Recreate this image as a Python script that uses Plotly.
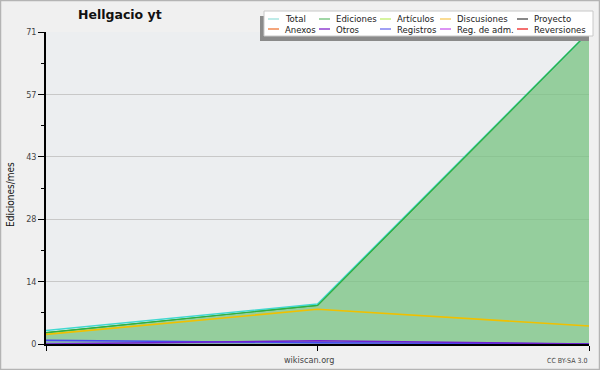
import plotly.graph_objects as go

W, H = 600, 370
L, R, T, B = 46, 589, 32, 344

months = [0, 1, 2]
total = [3.1, 9.1, 71]
ediciones = [2.6, 8.8, 71]
discusiones = [2.2, 7.9, 4.1]
registros = [0.85, 0.3, 0.0]
otros = [0.0, 0.75, 0.0]

ytickvals = [0, 14.2, 28.4, 42.6, 56.8, 71]
yticktext = ["0", "14", "28", "43", "57", "71"]
yminor = [7.1, 21.3, 35.5, 49.7, 63.9]

legend_names = [["Total", "Ediciones", "Artículos", "Discusiones", "Proyecto"],
                ["Anexos", "Otros", "Registros", "Reg. de adm.", "Reversiones"]]
legend_colors = [["#a8e4e0", "#80c888", "#c8f080", "#f8d070", "#606060"],
                 ["#f08850", "#9040d0", "#8080f0", "#d070f0", "#f04040"]]
legend_cols_px = [268, 319, 380, 440, 517]

FONT = "DejaVu Sans Condensed, DejaVu Sans"

def px(x):
    return (x - L) / (R - L)

def py(y):
    return (B - y) / (B - T)

fig = go.Figure()
fig.add_trace(go.Scatter(x=months, y=ediciones, mode="lines", fill="tozeroy",
                         fillcolor="rgba(120,195,130,0.75)",
                         line=dict(color="#30b040", width=1.2), showlegend=False))
fig.add_trace(go.Scatter(x=months, y=total, mode="lines",
                         line=dict(color="#40d8d0", width=1.5), showlegend=False))
fig.add_trace(go.Scatter(x=months, y=ediciones, mode="lines",
                         line=dict(color="#30b040", width=1.2), showlegend=False))
fig.add_trace(go.Scatter(x=months, y=discusiones, mode="lines",
                         line=dict(color="#f0c000", width=1.6), showlegend=False))
fig.add_trace(go.Scatter(x=months, y=registros, mode="lines", fill="tozeroy",
                         fillcolor="rgba(110,110,230,0.35)",
                         line=dict(color="#4848f0", width=1.5), showlegend=False))
fig.add_trace(go.Scatter(x=months, y=otros, mode="lines",
                         line=dict(color="#7020d0", width=1.5), showlegend=False))

shapes = []
ann = []
# outer frame
shapes.append(dict(type="rect", xref="paper", yref="paper",
                   x0=px(0.5), x1=px(599.5), y0=py(369.5), y1=py(0.5),
                   line=dict(color="#b4b4b4", width=1.5), layer="above"))
# legend shadow + box
shapes.append(dict(type="rect", xref="paper", yref="paper",
                   x0=px(260), x1=px(589), y0=py(41), y1=py(16),
                   fillcolor="#8a8a8a", line=dict(width=0), layer="above"))
shapes.append(dict(type="rect", xref="paper", yref="paper",
                   x0=px(264), x1=px(593), y0=py(36), y1=py(11),
                   fillcolor="#ffffff", line=dict(color="#c8c8c8", width=1), layer="above"))
for r, rowy in enumerate([19, 29]):
    for c, xc in enumerate(legend_cols_px):
        shapes.append(dict(type="line", xref="paper", yref="paper",
                           x0=px(xc), x1=px(xc + 11), y0=py(rowy), y1=py(rowy),
                           line=dict(color=legend_colors[r][c], width=1.5), layer="above"))
        ann.append(dict(text=legend_names[r][c], xref="paper", yref="paper",
                        x=px(xc + 15), y=py(rowy), xanchor="left", yanchor="middle",
                        showarrow=False, font=dict(family=FONT, size=9.5, color="#222")))

ann.append(dict(text="<b>Hellgacio yt</b>", xref="paper", yref="paper",
                x=px(120), y=py(15), xanchor="center", yanchor="middle", showarrow=False,
                font=dict(family="DejaVu Sans", size=12.5, color="#111")))
ann.append(dict(text="wikiscan.org", xref="paper", yref="paper",
                x=px(309), y=py(360), xanchor="center", yanchor="middle", showarrow=False,
                font=dict(family=FONT, size=9, color="#444")))
ann.append(dict(text="CC BY-SA 3.0", xref="paper", yref="paper",
                x=px(589), y=py(361), xanchor="right", yanchor="middle", showarrow=False,
                font=dict(family=FONT, size=7, color="#444")))
ann.append(dict(text="Ediciones/mes", xref="paper", yref="paper",
                x=px(11), y=py(195), xanchor="center", yanchor="middle", showarrow=False,
                textangle=-90, font=dict(family=FONT, size=10, color="#111")))

fig.update_layout(
    width=W, height=H,
    margin=dict(l=L, r=W - R, t=T, b=H - B),
    paper_bgcolor="#f0f0f0", plot_bgcolor="#eceef0",
    shapes=shapes, annotations=ann, showlegend=False,
    xaxis=dict(range=[0, 2], tickvals=months, showticklabels=False, ticks="outside",
               ticklen=5, tickcolor="#000", showgrid=False, zeroline=False,
               showline=True, linecolor="#000", linewidth=1.5, fixedrange=True),
    yaxis=dict(range=[0, 71], tickvals=ytickvals, ticktext=yticktext, ticks="outside",
               ticklen=6, tickcolor="#000", showgrid=True, gridcolor="#c8c8c8",
               gridwidth=1, zeroline=False, showline=True, linecolor="#000", linewidth=1.5,
               tickfont=dict(family=FONT, size=9, color="#444"),
               minor=dict(tickvals=yminor, ticks="outside", ticklen=3, tickcolor="#000",
                          showgrid=False),
               fixedrange=True),
)

fig.write_html("out.html")
